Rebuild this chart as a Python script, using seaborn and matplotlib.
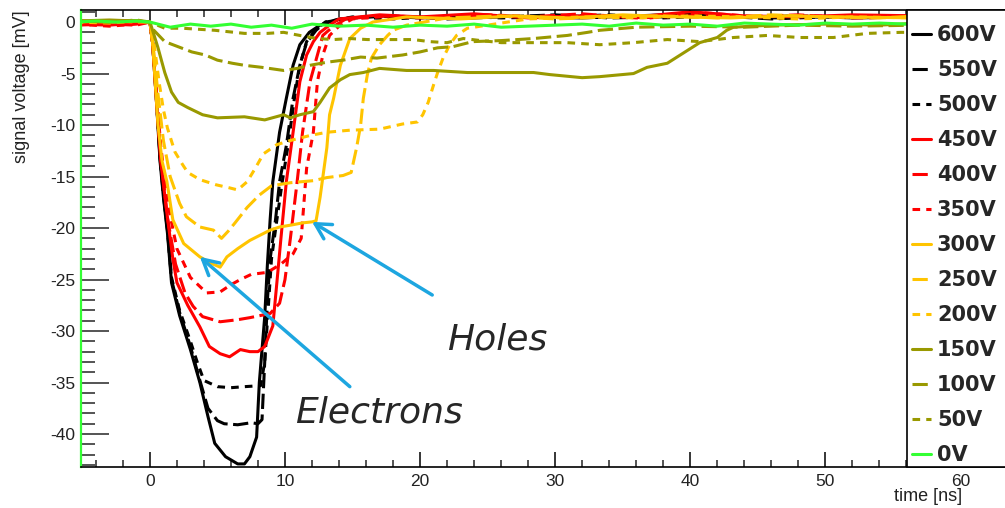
import pandas as pd
import matplotlib
matplotlib.use("Agg")
import matplotlib.pyplot as plt
import matplotlib.patches as mpatches
from matplotlib.lines import Line2D
from matplotlib.ticker import MultipleLocator
import seaborn as sns

sns.set_theme(style="white")
plt.rcParams["font.family"] = ["Liberation Sans", "DejaVu Sans"]
plt.rcParams["axes.unicode_minus"] = False


# -------------------------------------------------------
# signal traces (time ns, voltage mV)
# -------------------------------------------------------

t600 = [-5.5, -3, -1, 0, 0.2, 0.5, 0.75, 1.0, 1.3, 1.6, 2.2, 3.0, 3.7, 4.3, 4.8, 5.6, 6.5, 7.0, 7.4, 7.9, 8.1, 8.5, 8.7, 8.9, 9.1, 9.6, 10.1, 10.6, 11.1, 11.8, 12.6, 14, 17, 20, 24, 28, 32, 36, 40, 44, 48, 52, 57]
v600 = [0.1, 0.0, 0.1, 0.0, -2.0, -8.0, -13.5, -17.0, -20.5, -25.3, -28.5, -31.8, -35.0, -38.3, -40.9, -42.2, -42.9, -42.9, -42.2, -40.3, -35.0, -28.6, -23.5, -19.2, -15.5, -10.7, -7.4, -4.2, -2.2, -1.0, -0.3, 0.3, 0.6, 0.4, 0.7, 0.5, 0.4, 0.6, 0.8, 0.5, 0.6, 0.4, 0.5]

t550 = [-5.5, -3, -1, 0, 0.2, 0.5, 0.75, 1.0, 1.3, 1.6, 2.2, 3.0, 3.7, 4.3, 5.0, 5.5, 6.5, 7.5, 8.0, 8.3, 8.5, 8.7, 8.9, 9.3, 9.6, 10.1, 10.6, 11.1, 11.6, 12.3, 13, 15, 18, 22, 26, 30, 34, 38, 42, 46, 50, 54, 57]
v550 = [0.0, 0.1, -0.1, 0.0, -2.0, -7.8, -13.2, -16.8, -20.2, -25.0, -28.2, -31.5, -34.8, -37.5, -38.7, -39.0, -39.1, -38.9, -39.0, -38.6, -33.0, -27.0, -23.0, -19.2, -15.5, -12.0, -7.4, -4.2, -2.0, -0.8, 0.0, 0.4, 0.6, 0.3, 0.5, 0.7, 0.4, 0.5, 0.6, 0.3, 0.5, 0.6, 0.4]

t500 = [-5.5, -3, -1, 0, 0.2, 0.5, 0.75, 1.0, 1.3, 1.6, 2.2, 3.0, 3.5, 4.0, 5.0, 6.0, 7.0, 8.2, 8.5, 8.7, 9.0, 9.4, 9.8, 10.2, 10.7, 11.1, 11.6, 12.2, 13, 15, 18, 22, 26, 30, 34, 38, 42, 46, 50, 54, 57]
v500 = [0.0, -0.1, 0.1, 0.0, -2.0, -7.8, -13.0, -16.5, -20.0, -24.8, -28.0, -31.0, -33.0, -34.8, -35.4, -35.5, -35.4, -35.3, -33.0, -29.0, -23.0, -19.2, -15.5, -12.2, -7.4, -4.2, -1.9, -0.8, 0.0, 0.5, 0.3, 0.6, 0.4, 0.5, 0.7, 0.4, 0.6, 0.4, 0.5, 0.6, 0.4]

t450 = [-5.5, -3, -1, 0, 0.2, 0.5, 0.8, 1.3, 1.7, 2.0, 2.8, 3.7, 4.4, 5.2, 5.9, 6.7, 7.4, 8.0, 8.5, 8.8, 9.1, 9.4, 9.7, 10.1, 10.6, 11.1, 11.6, 12.1, 12.6, 13.3, 14, 17, 20, 24, 28, 32, 36, 40, 44, 48, 52, 57]
v450 = [-0.2, -0.3, -0.1, 0.0, -2.0, -8.0, -13.5, -19.0, -23.0, -25.3, -27.5, -29.6, -31.5, -32.2, -32.5, -31.8, -32.0, -32.0, -31.5, -30.5, -29.5, -25.3, -21.0, -15.5, -10.7, -5.8, -3.2, -1.9, -1.0, -0.3, 0.3, 0.7, 0.5, 0.8, 0.4, 0.6, 0.5, 1.0, 0.6, 0.5, 0.7, 0.6]

t400 = [-5.5, -3, -1, 0, 0.2, 0.5, 0.8, 1.3, 1.9, 2.6, 3.2, 3.9, 5.2, 6.5, 7.4, 8.9, 9.6, 10.0, 10.4, 10.9, 11.3, 11.85, 12.4, 12.8, 13.5, 14.5, 17, 20, 24, 28, 32, 36, 40, 44, 48, 52, 57]
v400 = [-0.3, -0.2, -0.3, 0.0, -2.0, -7.5, -13.0, -19.0, -23.5, -26.3, -27.6, -28.6, -29.1, -28.9, -28.7, -28.3, -27.3, -25.0, -21.0, -15.5, -10.7, -5.8, -3.2, -1.3, -0.5, 0.3, 0.6, 0.4, 0.7, 0.5, 0.8, 0.4, 0.6, 0.5, 0.7, 0.4, 0.6]

t350 = [-5.5, -3, -1, 0, 0.2, 0.5, 0.8, 1.3, 2.0, 3.0, 4.2, 5.2, 6.0, 6.7, 7.5, 8.7, 9.7, 10.6, 11.2, 11.6, 12.1, 12.4, 12.8, 13.3, 14.0, 15, 18, 21, 25, 29, 33, 37, 41, 45, 49, 53, 57]
v350 = [-0.2, -0.4, -0.2, 0.0, -2.0, -7.0, -12.0, -17.5, -22.0, -24.8, -26.3, -26.2, -25.5, -25.0, -24.5, -24.3, -23.5, -22.5, -21.0, -14.2, -10.7, -5.8, -3.2, -1.3, -0.4, 0.3, 0.6, 0.4, 0.7, 0.5, 0.6, 0.4, 0.9, 0.5, 0.6, 0.4, 0.6]

t300 = [-5.5, -3, -1, 0, 0.2, 0.4, 0.6, 0.9, 1.26, 1.7, 2.5, 3.7, 4.5, 5.2, 5.7, 6.5, 7.4, 8.9, 9.6, 10.5, 11.3, 12.0, 12.3, 12.6, 13.1, 13.3, 13.6, 14.1, 14.8, 15.6, 16.5, 19, 23, 27, 31, 35, 39, 43, 47, 51, 57]
v300 = [0.1, 0.0, 0.1, 0.0, -2.0, -6.0, -10.0, -13.5, -15.5, -19.2, -21.5, -22.8, -23.4, -23.8, -22.8, -22.0, -21.2, -20.2, -19.9, -19.7, -19.5, -19.4, -19.3, -17.0, -12.2, -9.0, -7.4, -4.2, -1.6, -0.6, 0.0, 0.5, 0.3, 0.6, 0.4, 0.7, 0.5, 0.4, 0.6, 0.5, 0.4]

t250 = [-5.5, -3, -1, 0, 0.3, 0.6, 1.0, 1.5, 2.2, 2.7, 3.7, 4.7, 5.3, 5.8, 6.3, 7.2, 8.1, 9.0, 10.4, 12.1, 13.1, 14.3, 14.9, 15.3, 15.6, 15.8, 16.1, 16.4, 17.0, 17.6, 18.0, 19, 22, 26, 30, 34, 38, 42, 46, 50, 54, 57]
v250 = [0.0, 0.1, 0.0, 0.0, -3.0, -7.0, -11.5, -15.0, -17.6, -18.9, -19.9, -20.2, -21.0, -20.3, -19.5, -18.0, -16.8, -15.9, -15.6, -15.4, -15.1, -14.9, -14.6, -12.2, -10.0, -7.4, -5.1, -3.5, -2.2, -1.3, -0.8, -0.3, 0.4, 0.6, 0.3, 0.5, 0.6, 0.4, 0.7, 0.5, 0.4, 0.6]

t200 = [-5.5, -3, -1, 0, 0.3, 0.7, 1.0, 1.3, 1.85, 2.4, 2.8, 3.7, 4.9, 5.9, 6.5, 7.2, 7.8, 8.4, 9.4, 10.4, 11.9, 13.1, 14.8, 17.0, 18.7, 19.8, 20.2, 20.6, 21.0, 21.3, 21.7, 22.2, 22.7, 23.5, 25, 28, 32, 36, 40, 44, 48, 52, 57]
v200 = [0.0, -0.1, 0.1, 0.0, -2.0, -6.0, -8.5, -10.3, -12.6, -13.8, -14.6, -15.3, -15.8, -16.1, -16.3, -15.5, -14.2, -12.8, -11.9, -11.5, -11.0, -10.7, -10.5, -10.4, -9.9, -9.7, -9.0, -7.8, -6.1, -4.9, -3.5, -2.2, -1.3, -0.6, -0.3, 0.3, 0.5, 0.4, 0.6, 0.5, 0.3, 0.5, 0.4]

t150 = [-5.5, -3, -1, 0, 0.15, 0.6, 1.1, 1.6, 2.1, 2.8, 3.9, 5.0, 7.0, 8.5, 9.9, 10.4, 11.1, 12.1, 12.6, 13.3, 14.1, 14.8, 15.8, 17.0, 19.0, 21.0, 23.5, 26.0, 28.4, 29.6, 32.0, 33.3, 35.8, 36.8, 38.3, 39.5, 40.7, 42.0, 42.7, 43.2, 46, 50, 54, 57]
v150 = [0.1, 0.2, 0.1, 0.0, -0.6, -2.5, -4.9, -6.8, -7.8, -8.3, -9.0, -9.3, -9.2, -9.5, -9.0, -9.3, -9.0, -8.7, -7.8, -6.4, -5.6, -5.1, -4.9, -4.5, -4.7, -4.7, -4.9, -4.9, -4.9, -5.1, -5.4, -5.3, -5.0, -4.4, -4.0, -3.0, -2.0, -1.5, -0.8, -0.5, -0.3, -0.2, -0.3, -0.1]

t100 = [-5.5, -3, -1, 0, 0.15, 1.1, 2.1, 3.1, 4.1, 5.0, 6.1, 7.0, 8.3, 9.9, 10.9, 11.85, 13.1, 14.3, 15.6, 16.8, 18.7, 20.0, 21.3, 22.4, 23.9, 26.0, 28.4, 30.9, 32.4, 33.3, 36, 40, 44, 48, 52, 57]
v100 = [0.1, 0.0, 0.2, 0.0, -0.6, -1.9, -2.4, -2.9, -3.2, -3.7, -4.0, -4.2, -4.4, -4.7, -4.5, -4.2, -3.9, -3.7, -3.4, -3.5, -3.2, -2.9, -2.5, -2.4, -1.9, -1.8, -1.6, -1.3, -1.0, -0.8, -0.5, -0.4, -0.5, -0.3, -0.4, -0.3]

t50 = [-5.5, -3, -1, 0, 1.1, 2.4, 4.8, 7.0, 8.7, 9.9, 11.1, 12.4, 13.6, 14.8, 16.1, 17.8, 19.5, 20.7, 22.0, 23.2, 24.5, 26.0, 28.4, 30.9, 33.3, 35.8, 38.3, 40.7, 43.2, 45.7, 48.1, 50.6, 53.1, 55.6, 57]
v50 = [0.1, 0.0, 0.1, 0.0, -0.6, -0.6, -0.8, -1.1, -1.1, -1.0, -1.3, -1.6, -1.7, -1.6, -1.7, -1.7, -1.7, -1.9, -2.0, -1.6, -1.8, -2.0, -2.0, -2.0, -2.2, -2.0, -1.7, -1.9, -1.5, -1.3, -1.5, -1.5, -1.1, -1.0, -1.0]

t0 = [-5.5, -4, -2.5, -1, 0, 1.5, 3, 4.5, 6, 7.5, 9, 10.5, 12, 14, 16, 18, 20, 22, 24, 26, 28, 30, 32, 34, 36, 38, 40, 42, 44, 46, 48, 50, 52, 54, 56.1]
v0 = [0.0, 0.1, 0.0, 0.1, 0.0, -0.5, -0.2, -0.4, -0.2, -0.5, -0.3, -0.6, -0.2, -0.4, -0.3, -0.5, -0.3, -0.4, -0.2, -0.5, -0.4, -0.3, -0.2, -0.4, -0.1, -0.3, -0.2, -0.4, -0.1, -0.2, -0.3, -0.1, -0.2, -0.1, -0.2]

labels = ["600V", "550V", "500V", "450V", "400V", "350V", "300V",
          "250V", "200V", "150V", "100V", "50V", "0V"]
traces = [(t600, v600), (t550, v550), (t500, v500), (t450, v450),
          (t400, v400), (t350, v350), (t300, v300), (t250, v250),
          (t200, v200), (t150, v150), (t100, v100), (t50, v50), (t0, v0)]

# colour per bias group, line style cycles solid / dashed / dotted
BLACK, RED, ORANGE, OLIVE, GREEN = "#000000", "#ff0000", "#ffc400", "#999900", "#33ff33"
colors = [BLACK, BLACK, BLACK, RED, RED, RED, ORANGE, ORANGE, ORANGE,
          OLIVE, OLIVE, OLIVE, GREEN]
SOLID, DASHED, DOTTED = "", (5, 1.8), (2.5, 2)
styles = [SOLID, DASHED, DOTTED] * 4 + [SOLID]

frames = [pd.DataFrame({"time": t, "voltage": v, "bias": lab})
          for (t, v), lab in zip(traces, labels)]
df = pd.concat(frames, ignore_index=True)


# -------------------------------------------------------
# plot
# -------------------------------------------------------

fig = plt.figure(figsize=(10.05, 5.08), dpi=100)
ax = fig.add_axes([81 / 1005, 41 / 508, 924 / 1005, 457 / 508])

sns.lineplot(data=df, x="time", y="voltage", hue="bias", style="bias",
             hue_order=labels, style_order=labels,
             palette=dict(zip(labels, colors)),
             dashes=dict(zip(labels, styles)),
             estimator=None, sort=False, linewidth=2.2, legend=False, ax=ax)

ax.set_xlim(-5.1, 63.3)
ax.set_ylim(-43.2, 1.17)

ax.xaxis.set_major_locator(MultipleLocator(10))
ax.xaxis.set_minor_locator(MultipleLocator(2))
ax.yaxis.set_major_locator(MultipleLocator(5))
ax.yaxis.set_minor_locator(MultipleLocator(1))
ax.tick_params(axis="x", which="major", direction="in", length=11, width=1.1,
               top=True, bottom=True, labelsize=12.5, pad=5, colors="black")
ax.tick_params(axis="x", which="minor", direction="in", length=5, width=1.1,
               top=True, bottom=True)
ax.tick_params(axis="y", which="major", direction="in", length=20, width=1.1,
               left=True, right=False, labelsize=12.5, pad=4)
ax.tick_params(axis="y", which="minor", direction="in", length=10, width=1.1,
               left=True, right=False)
for lab in ax.get_xticklabels() + ax.get_yticklabels():
    lab.set_color("#222222")

for side in ["top", "bottom"]:
    ax.spines[side].set_color("black")
    ax.spines[side].set_linewidth(1.2)
ax.spines["left"].set_color(GREEN)
ax.spines["left"].set_linewidth(1.6)
ax.spines["right"].set_visible(False)

ax.set_xlabel("time [ns]", fontsize=13, loc="right", color="#222222")
ax.xaxis.set_label_coords((962 - 81) / 924, -0.046)
ax.set_ylabel("signal voltage [mV]", fontsize=13, loc="top", color="#222222")
ax.yaxis.set_label_coords((30 - 81) / 924, 1.0)

# annotations
ARROW = "#1da6e0"
ax.text(22.0, -31.8, "Holes", fontsize=26, style="italic",
        family="DejaVu Sans", va="baseline", ha="left")
ax.text(10.74, -38.9, "Electrons", fontsize=26, style="italic",
        family="DejaVu Sans", va="baseline", ha="left")
arrow_kw = dict(arrowstyle="->,head_length=0.55,head_width=0.3", color=ARROW,
                lw=2.5, shrinkA=0, shrinkB=0, mutation_scale=20)
ax.annotate("", xy=(12.0, -19.4), xytext=(20.9, -26.5), arrowprops=arrow_kw)
ax.annotate("", xy=(3.7, -22.8), xytext=(14.8, -35.4), arrowprops=arrow_kw)

# legend panel sitting over the right end of the frame
box_x = (907 - 81) / 924
ax.add_patch(mpatches.Rectangle((box_x, 0), 0.3, 1, transform=ax.transAxes,
                                facecolor="white", edgecolor="black",
                                linewidth=1.2, zorder=5, clip_on=False))
handles = [Line2D([], [], color=c, linestyle="-" if s == "" else (0, s), linewidth=2.2)
           for c, s in zip(colors, styles)]
leg = ax.legend(handles, labels, loc="upper left",
                bbox_to_anchor=((912 - 81) / 924, 0.967),
                frameon=False, borderaxespad=0, borderpad=0,
                handlelength=0.9, handletextpad=0.3, labelspacing=0.72,
                prop={"family": "DejaVu Sans", "weight": "bold", "size": 15})
leg.set_zorder(6)

fig.savefig("out.png", dpi=100)
